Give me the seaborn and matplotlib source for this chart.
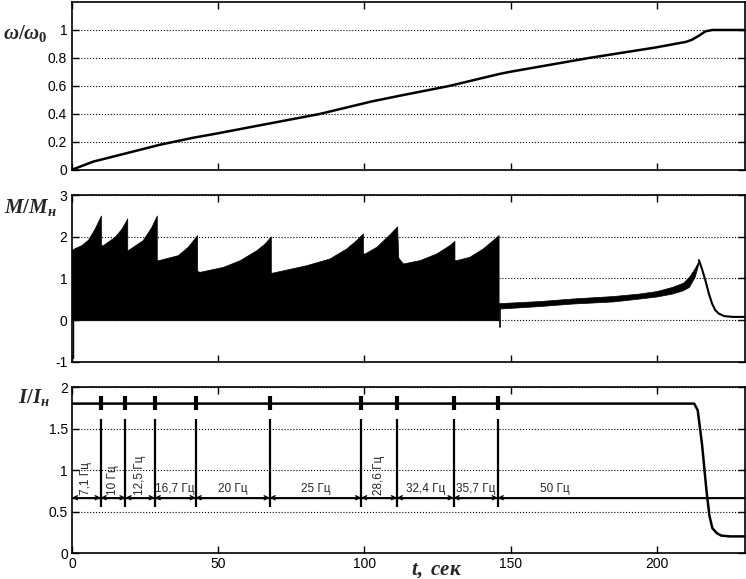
import numpy as np
import pandas as pd
import matplotlib
matplotlib.use("Agg")
import matplotlib.pyplot as plt
import seaborn as sns

# speed omega/omega0 vs time
w_t = [0, 1, 7.3, 18.7, 30, 41.4, 49.4, 67, 84.7, 102.6, 112, 129, 146, 149.5, 176.8, 199.6, 210, 212, 214.5, 216.6, 219, 230]
w_v = [0, 0.01, 0.06, 0.12, 0.18, 0.23, 0.26, 0.33, 0.4, 0.49, 0.53, 0.6, 0.685, 0.70, 0.8, 0.875, 0.915, 0.93, 0.96, 0.99, 1.0, 1.0]

# torque envelope (oscillating torque drawn as filled band), start-up part
m_env_t = [0, 0.7, 3.2, 5.5, 7.7, 9.9,
           9.9, 10.6, 14.6, 16.9, 18.9,
           18.9, 19.1, 24.2, 27.1, 29.0,
           29.0, 29.6, 36.2, 39.6, 42.8,
           42.8, 43.7, 51.7, 57.4, 63.1, 65.9, 68.0,
           68.0, 68.5, 80.2, 88.1, 93.8, 97.2, 99.5,
           99.5, 100.1, 104.1, 108.6, 111.2,
           111.6, 113.2, 118.9, 124.6, 129.1, 130.8,
           130.8, 131.4, 135.9, 140.5, 143.9, 145.9]
m_env_v = [1.68, 1.72, 1.80, 1.93, 2.19, 2.51,
           1.80, 1.80, 2.0, 2.19, 2.44,
           1.68, 1.68, 1.92, 2.23, 2.51,
           1.44, 1.44, 1.56, 1.76, 2.04,
           1.18, 1.16, 1.28, 1.44, 1.68, 1.84, 2.01,
           1.14, 1.14, 1.32, 1.48, 1.72, 1.92, 2.08,
           1.60, 1.60, 1.76, 2.06, 2.25,
           1.50, 1.36, 1.44, 1.60, 1.80, 1.90,
           1.44, 1.44, 1.52, 1.72, 1.92, 2.04]

# torque after switching to 50 Hz
m_band_t = [146.1, 160, 171, 185, 194, 200, 205.3, 209, 211, 213, 214.4]
m_band_lo = [0.28, 0.34, 0.40, 0.45, 0.52, 0.57, 0.64, 0.72, 0.80, 1.05, 1.40]
m_band_hi = [0.41, 0.46, 0.52, 0.58, 0.64, 0.70, 0.80, 0.90, 1.04, 1.25, 1.44]
m_tail_t = [214.4, 215.5, 216.6, 217.8, 218.9, 220, 221.2, 223, 226, 230]
m_tail_v = [1.44, 1.22, 0.96, 0.64, 0.40, 0.24, 0.16, 0.10, 0.08, 0.08]

# current I/In
i_t = [0, 212.8, 214, 215.5, 217, 218, 219, 220.5, 222, 225, 230]
i_v = [1.8, 1.8, 1.72, 1.3, 0.75, 0.45, 0.3, 0.24, 0.21, 0.2, 0.2]

# frequency switching moments and stage labels
sw_t = [9.8, 18.3, 28.3, 42.3, 67.6, 98.9, 111.1, 130.5, 145.6]
freq_labels = ['7,1 Гц', '10 Гц', '12,5 Гц', '16,7 Гц', '20 Гц', '25 Гц', '28,6 Гц', '32,4 Гц', '35,7 Гц', '50 Гц']
freq_vertical = [True, True, True, False, False, False, True, False, False, False]

sns.set_style("ticks", {"xtick.direction": "in", "ytick.direction": "in"})
plt.rcParams['font.family'] = ['Liberation Sans', 'DejaVu Sans']
plt.rcParams['mathtext.fontset'] = 'custom'
plt.rcParams['mathtext.it'] = 'Liberation Serif:italic:bold'
plt.rcParams['mathtext.rm'] = 'Liberation Serif:bold'

fig = plt.figure(figsize=(7.46, 5.79), dpi=100)
ax1 = fig.add_axes([0.0965, 0.7064, 0.9015, 0.2902])
ax2 = fig.add_axes([0.0965, 0.3748, 0.9015, 0.2884])
ax3 = fig.add_axes([0.0965, 0.0449, 0.9015, 0.2867])

for ax in (ax1, ax2, ax3):
    ax.set_xlim(0, 230)
    ax.set_xticks([0, 50, 100, 150, 200])
    ax.tick_params(top=True, right=True, direction='in', length=5, width=1,
                   labelsize=10, colors='k')
    ax.grid(axis='y', linestyle=':', color='k', linewidth=0.8)
    for s in ax.spines.values():
        s.set_color('k')
        s.set_linewidth(1.2)
    ax.set_xlabel('')
    ax.set_ylabel('')

# top panel - speed
sns.lineplot(x=w_t, y=w_v, ax=ax1, color='k', linewidth=1.8)
ax1.set_ylim(0, 1.2)
ax1.set_yticks([0, 0.2, 0.4, 0.6, 0.8, 1.0], ['0', '0.2', '0.4', '0.6', '0.8', '1'])
ax1.tick_params(labelbottom=False)

# middle panel - torque
ax2.fill_between(m_env_t, 0, m_env_v, color='k', linewidth=0.5)
ax2.fill_between(m_band_t, m_band_lo, m_band_hi, color='k', linewidth=0.5)
sns.lineplot(x=m_tail_t, y=m_tail_v, ax=ax2, color='k', linewidth=1.5)
ax2.plot([146.3, 146.3], [-0.15, 0.4], color='k', lw=1.2)
ax2.plot([0.4, 0.4], [-0.9, 0], color='k', lw=1.0)
ax2.set_ylim(-1, 3)
ax2.set_yticks([-1, 0, 1, 2, 3], ['-1', '0', '1', '2', '3'])
ax2.tick_params(labelbottom=False)

# bottom panel - current
sns.lineplot(x=i_t, y=i_v, ax=ax3, color='k', linewidth=1.8)
ax3.vlines(sw_t, 1.72, 1.89, colors='k', linewidth=3)
ax3.vlines(sw_t, 0.55, 1.61, colors='k', linewidth=1.6)
ax3.axhline(0.666, color='k', linewidth=1.0, zorder=1)
bounds = [0] + sw_t + [230]
for k, (lab, vert) in enumerate(zip(freq_labels, freq_vertical)):
    a, b = bounds[k], bounds[k + 1]
    if k < len(freq_labels) - 1:
        ax3.annotate('', xy=(b, 0.666), xytext=(a, 0.666),
                     arrowprops=dict(arrowstyle='<->', color='k', lw=1.0,
                                     shrinkA=0, shrinkB=0, mutation_scale=7))
        xc = (a + b) / 2
    else:
        ax3.annotate('', xy=(b, 0.666), xytext=(a, 0.666),
                     arrowprops=dict(arrowstyle='<-', color='k', lw=1.0,
                                     shrinkA=0, shrinkB=0, mutation_scale=7))
        xc = 165
    if vert:
        ax3.text(xc, 0.70, lab, rotation=90, ha='center', va='bottom', fontsize=8.5)
    else:
        ax3.text(xc, 0.70, lab, ha='center', va='bottom', fontsize=8.5)
ax3.set_ylim(0, 2)
ax3.set_yticks([0, 0.5, 1, 1.5, 2], ['0', '0.5', '1', '1.5', '2'])
ax3.set_xticks([0, 50, 100, 150, 200], ['0', '50', '100', '150', '200'])
ax3.tick_params(pad=3)

# axis labels
fig.text(0.004, 1 - 33 / 579, r'$\omega/\omega_0$', fontsize=15, va='center', ha='left')
fig.text(0.006, 1 - 208 / 579, r'$M/M_н$', fontsize=15, va='center', ha='left')
fig.text(0.024, 1 - 398 / 579, r'$I/I_н$', fontsize=15, va='center', ha='left')
fig.text(0.585, 1 - 570 / 579, r'$t,\ сек$', fontsize=15, va='center', ha='center')

fig.savefig('out.png', dpi=100)
